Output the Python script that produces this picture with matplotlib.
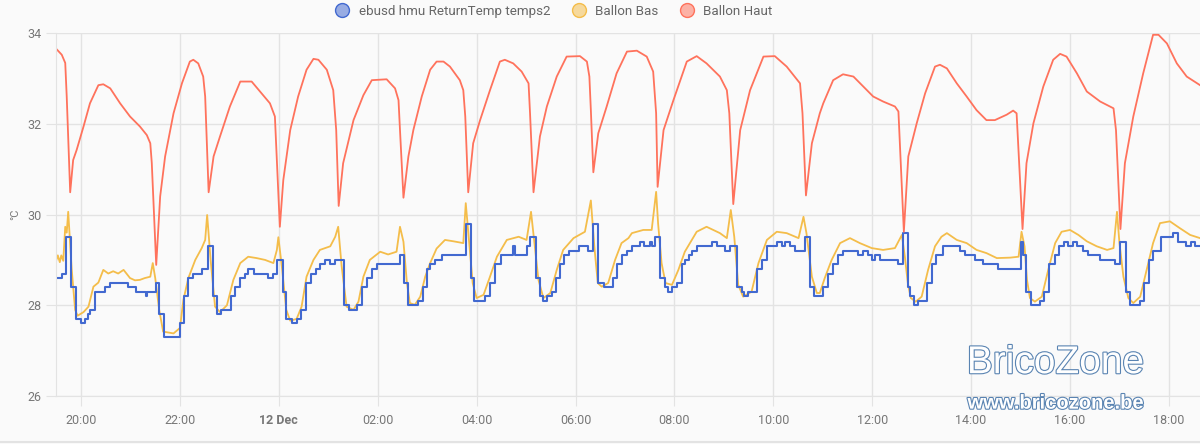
import matplotlib.pyplot as plt
import matplotlib.patheffects as pe
from matplotlib.lines import Line2D

plt.rcParams['font.family'] = ['Roboto', 'DejaVu Sans']

# time in decimal hours from 11 Dec 00:00 (24 = 12 Dec 00:00)
red_t = [19.49, 19.61, 19.68, 19.71, 19.78, 19.84, 19.91, 20.05, 20.18, 20.35, 20.45, 20.59, 20.79, 20.99,
         21.19, 21.33, 21.40, 21.43, 21.52, 21.60, 21.70, 21.87, 22.04, 22.20, 22.27, 22.37, 22.47, 22.51,
         22.58, 22.68, 22.81, 23.01, 23.22, 23.45, 23.62, 23.82, 23.92, 24.02, 24.09, 24.23, 24.39, 24.56,
         24.70, 24.80, 24.97, 25.10, 25.16, 25.21, 25.30, 25.51, 25.71, 25.88, 26.18, 26.35, 26.42, 26.45,
         26.52, 26.62, 26.72, 26.89, 27.06, 27.19, 27.33, 27.46, 27.66, 27.73, 27.77, 27.83, 27.93, 28.07,
         28.27, 28.47, 28.57, 28.74, 28.91, 29.05, 29.08, 29.15, 29.28, 29.42, 29.62, 29.82, 30.09, 30.23,
         30.28, 30.31, 30.36, 30.46, 30.63, 30.83, 31.04, 31.24, 31.44, 31.57, 31.63, 31.66, 31.78, 31.98,
         32.25, 32.45, 32.65, 32.92, 33.06, 33.11, 33.19, 33.33, 33.53, 33.80, 34.03, 34.27, 34.54, 34.59,
         34.66, 34.78, 34.94, 35.01, 35.21, 35.41, 35.62, 35.82, 36.02, 36.22, 36.46, 36.53, 36.64, 36.73,
         36.90, 37.07, 37.27, 37.37, 37.51, 37.71, 37.91, 38.11, 38.31, 38.48, 38.72, 38.85, 38.92, 39.04,
         39.12, 39.26, 39.46, 39.66, 39.80, 39.93, 40.14, 40.34, 40.61, 40.88, 40.93, 41.02, 41.11, 41.28,
         41.48, 41.68, 41.79, 41.96, 42.16, 42.36, 42.63]
red_v = [33.66, 33.52, 33.34, 32.60, 30.49, 31.20, 31.42, 31.94, 32.45, 32.85, 32.87, 32.78, 32.45, 32.16,
         31.94, 31.75, 31.57, 31.14, 28.89, 30.40, 31.28, 32.23, 32.89, 33.37, 33.41, 33.33, 33.04, 32.60,
         30.49, 31.28, 31.72, 32.38, 32.93, 32.93, 32.71, 32.45, 32.16, 29.73, 30.76, 31.86, 32.60, 33.19,
         33.43, 33.41, 33.19, 32.74, 31.86, 30.19, 31.13, 32.08, 32.63, 32.96, 32.98, 32.78, 32.52, 31.86,
         30.37, 31.28, 31.86, 32.60, 33.19, 33.37, 33.37, 33.26, 32.96, 32.74, 32.16, 30.49, 31.57, 32.08,
         32.74, 33.37, 33.41, 33.33, 33.15, 32.89, 32.23, 30.49, 31.72, 32.38, 33.04, 33.48, 33.49, 33.37,
         33.04, 32.30, 30.93, 31.79, 32.38, 33.11, 33.59, 33.61, 33.48, 33.15, 32.23, 30.61, 31.86, 32.52,
         33.37, 33.49, 33.33, 33.04, 32.74, 32.23, 30.23, 31.86, 32.74, 33.48, 33.49, 33.26, 32.89, 32.23,
         30.42, 31.57, 32.23, 32.45, 32.96, 33.09, 33.04, 32.82, 32.60, 32.49, 32.38, 32.27, 29.62, 31.28,
         32.01, 32.67, 33.26, 33.30, 33.22, 32.89, 32.60, 32.30, 32.08, 32.08, 32.20, 32.29, 32.23, 29.68,
         31.13, 32.01, 32.82, 33.41, 33.54, 33.48, 33.11, 32.71, 32.49, 32.34, 31.86, 29.68, 31.13, 32.16,
         33.11, 33.96, 33.96, 33.77, 33.33, 33.04, 32.85]

blue_t = [19.49, 19.61, 19.70, 19.80, 19.90, 20.00, 20.08, 20.15, 20.18, 20.28, 20.49, 20.59, 20.94, 21.11,
          21.31, 21.34, 21.52, 21.58, 21.68, 22.00, 22.09, 22.17, 22.26, 22.44, 22.57, 22.66, 22.74, 22.83,
          23.03, 23.11, 23.22, 23.32, 23.38, 23.50, 23.79, 23.89, 23.96, 24.08, 24.15, 24.27, 24.36, 24.45,
          24.55, 24.65, 24.75, 24.83, 24.93, 25.04, 25.14, 25.32, 25.41, 25.58, 25.68, 25.78, 25.88, 25.98,
          26.45, 26.53, 26.61, 26.82, 26.91, 26.99, 27.06, 27.16, 27.29, 27.78, 27.88, 27.95, 28.17, 28.27,
          28.37, 28.49, 28.74, 28.78, 29.01, 29.08, 29.20, 29.28, 29.34, 29.42, 29.52, 29.61, 29.69, 29.77,
          29.87, 30.08, 30.26, 30.35, 30.46, 30.57, 30.75, 30.83, 30.94, 31.04, 31.14, 31.31, 31.38, 31.50,
          31.55, 31.61, 31.71, 31.80, 31.87, 31.96, 32.05, 32.15, 32.22, 32.29, 32.35, 32.45, 32.76, 32.86,
          33.02, 33.12, 33.27, 33.36, 33.41, 33.49, 33.66, 33.77, 33.87, 34.07, 34.17, 34.24, 34.34, 34.44,
          34.64, 34.74, 34.82, 35.01, 35.11, 35.21, 35.31, 35.41, 35.72, 35.82, 35.92, 35.99, 36.06, 36.16,
          36.53, 36.63, 36.72, 36.76, 36.84, 36.93, 37.11, 37.20, 37.30, 37.43, 37.78, 37.88, 38.08, 38.25,
          38.55, 39.00, 39.04, 39.12, 39.21, 39.39, 39.48, 39.58, 39.70, 39.78, 39.88, 39.96, 40.06, 40.14,
          40.26, 40.36, 40.61, 40.91, 41.02, 41.13, 41.21, 41.42, 41.50, 41.60, 41.68, 41.85, 42.08, 42.18,
          42.35, 42.45, 42.53, 42.63]
blue_v = [28.6, 28.7, 29.5, 28.4, 27.7, 27.6, 27.7, 27.8, 27.9, 28.3, 28.4, 28.5, 28.4, 28.3,
          28.2, 28.3, 28.5, 27.8, 27.3, 27.6, 28.2, 28.6, 28.7, 28.8, 29.3, 28.2, 27.8, 27.9,
          28.2, 28.4, 28.6, 28.7, 28.8, 28.7, 28.6, 28.7, 29.0, 28.3, 27.7, 27.6, 27.7, 27.9,
          28.5, 28.7, 28.8, 28.9, 29.0, 28.9, 29.0, 28.0, 27.9, 28.0, 28.4, 28.6, 28.8, 28.9,
          29.1, 28.5, 28.0, 28.1, 28.4, 28.8, 28.9, 29.0, 29.1, 29.8, 28.6, 28.1, 28.2, 28.5,
          28.9, 29.1, 29.3, 29.1, 29.3, 29.5, 28.6, 28.2, 28.1, 28.2, 28.3, 28.6, 28.9, 29.1,
          29.2, 29.3, 29.2, 29.8, 28.5, 28.4, 28.6, 28.9, 29.1, 29.2, 29.3, 29.4, 29.3, 29.4,
          29.3, 29.5, 28.6, 28.4, 28.3, 28.4, 28.5, 28.9, 29.0, 29.1, 29.2, 29.3, 29.4, 29.3,
          29.2, 29.3, 28.4, 28.3, 28.2, 28.3, 28.8, 29.0, 29.3, 29.4, 29.3, 29.4, 29.3, 29.2,
          29.5, 28.4, 28.2, 28.4, 28.7, 28.9, 29.1, 29.2, 29.1, 29.2, 29.1, 29.0, 29.1, 29.0,
          28.9, 29.6, 28.4, 28.2, 28.0, 28.1, 28.5, 28.9, 29.1, 29.3, 29.2, 29.1, 29.0, 28.9,
          28.8, 29.4, 29.1, 28.3, 28.0, 28.1, 28.3, 28.9, 29.1, 29.3, 29.4, 29.3, 29.4, 29.3,
          29.2, 29.1, 29.0, 28.9, 29.4, 28.3, 28.0, 28.1, 28.5, 29.0, 29.2, 29.5, 29.6, 29.4,
          29.3, 29.4, 29.3, 29.3]

yellow_t = [19.49, 19.53, 19.57, 19.60, 19.64, 19.68, 19.71, 19.74, 19.81, 19.88, 19.93, 20.05, 20.15, 20.25,
            20.35, 20.45, 20.55, 20.65, 20.75, 20.86, 20.99, 21.09, 21.19, 21.29, 21.40, 21.45, 21.50, 21.58,
            21.66, 21.87, 22.00, 22.07, 22.17, 22.31, 22.44, 22.51, 22.55, 22.62, 22.71, 22.81, 22.95, 23.08,
            23.22, 23.38, 23.55, 23.72, 23.89, 23.96, 23.99, 24.06, 24.15, 24.23, 24.36, 24.46, 24.56, 24.70,
            24.83, 25.04, 25.14, 25.20, 25.27, 25.37, 25.51, 25.61, 25.71, 25.84, 26.05, 26.21, 26.38, 26.45,
            26.52, 26.59, 26.65, 26.75, 26.86, 26.96, 27.06, 27.19, 27.36, 27.53, 27.73, 27.78, 27.85, 27.92,
            28.00, 28.14, 28.27, 28.41, 28.61, 28.85, 29.01, 29.10, 29.17, 29.25, 29.35, 29.49, 29.62, 29.75,
            29.96, 30.19, 30.31, 30.38, 30.45, 30.53, 30.66, 30.80, 30.93, 31.07, 31.14, 31.37, 31.54, 31.63,
            31.67, 31.74, 31.82, 31.95, 32.08, 32.21, 32.45, 32.65, 32.92, 33.06, 33.14, 33.21, 33.29, 33.39,
            33.56, 33.70, 33.87, 34.07, 34.27, 34.51, 34.61, 34.67, 34.78, 34.88, 34.94, 35.04, 35.18, 35.35,
            35.55, 35.75, 35.99, 36.22, 36.46, 36.60, 36.66, 36.72, 36.78, 36.88, 37.00, 37.13, 37.27, 37.40,
            37.51, 37.71, 37.91, 38.11, 38.31, 38.52, 38.79, 38.96, 39.02, 39.08, 39.13, 39.19, 39.29, 39.43,
            39.56, 39.70, 39.83, 40.00, 40.17, 40.34, 40.54, 40.75, 40.88, 40.95, 41.00, 41.08, 41.18, 41.28,
            41.42, 41.55, 41.68, 41.82, 42.02, 42.22, 42.43, 42.63]
yellow_v = [28.96, 29.10, 28.95, 29.10, 28.98, 29.73, 29.60, 30.06, 28.80, 27.90, 27.77, 27.85, 27.97, 28.41,
            28.50, 28.78, 28.70, 28.75, 28.70, 28.78, 28.60, 28.55, 28.56, 28.60, 28.63, 28.93, 28.60, 27.90,
            27.42, 27.38, 27.50, 28.12, 28.60, 29.00, 29.26, 29.44, 29.99, 29.00, 27.97, 27.85, 28.00, 28.56,
            28.93, 29.07, 29.04, 29.00, 28.93, 29.22, 29.50, 28.86, 27.90, 27.66, 27.70, 27.97, 28.63, 29.00,
            29.22, 29.30, 29.51, 29.73, 28.86, 27.97, 27.90, 28.08, 28.63, 29.00, 29.18, 29.12, 29.18, 29.73,
            29.40, 28.49, 28.05, 28.01, 28.19, 28.63, 28.93, 29.25, 29.44, 29.41, 29.37, 30.25, 29.37, 28.49,
            28.16, 28.23, 28.63, 29.07, 29.44, 29.51, 29.44, 30.06, 29.37, 28.56, 28.16, 28.27, 28.78, 29.22,
            29.48, 29.62, 30.31, 29.30, 28.49, 28.41, 28.49, 29.00, 29.37, 29.48, 29.59, 29.66, 29.66, 30.50,
            29.80, 28.93, 28.49, 28.45, 28.78, 29.18, 29.62, 29.73, 29.59, 29.48, 30.10, 29.51, 28.45, 28.19,
            28.30, 28.93, 29.44, 29.62, 29.59, 29.48, 29.95, 29.59, 28.63, 28.27, 28.27, 28.60, 29.00, 29.37,
            29.48, 29.37, 29.26, 29.22, 29.26, 29.55, 29.07, 28.49, 28.16, 28.08, 28.19, 28.78, 29.30, 29.51,
            29.59, 29.44, 29.37, 29.22, 29.15, 29.04, 29.05, 29.07, 29.62, 29.30, 28.56, 28.16, 28.08, 28.19,
            28.78, 29.37, 29.62, 29.66, 29.55, 29.41, 29.30, 29.22, 29.26, 30.06, 29.37, 28.63, 28.16, 28.05,
            28.19, 28.78, 29.37, 29.81, 29.85, 29.70, 29.55, 29.48]

tick_pos = [20, 22, 24, 26, 28, 30, 32, 34, 36, 38, 40, 42]
tick_lbl = ["20:00", "22:00", "12 Dec", "02:00", "04:00", "06:00", "08:00",
            "10:00", "12:00", "14:00", "16:00", "18:00"]

c_blue = "#4269d0"
c_yellow = "#f4bd4a"
c_red = "#ff725c"
grid_c = "#e3e3e3"
txt_c = "#777777"

fig = plt.figure(figsize=(12, 4.44), dpi=100, facecolor="#fafafa")
ax = fig.add_axes([0.0467, 0.108, 0.9533, 0.8177])
ax.set_facecolor("#fafafa")

ax.plot(yellow_t, yellow_v, c=c_yellow, lw=1.3)
ax.plot(blue_t, blue_v, c=c_blue, lw=1.5, drawstyle="steps-post")
ax.plot(red_t, red_v, c=c_red, lw=1.3)

ax.set_xlim(19.494, 42.629)
ax.set_ylim(26, 34)
ax.set_yticks([26, 28, 30, 32, 34])
ax.set_xticks(tick_pos)
ax.set_xticklabels(tick_lbl)
ax.get_xticklabels()[2].set_fontweight("bold")
ax.grid(True, color=grid_c, lw=1)
ax.set_axisbelow(True)
ax.tick_params(length=7, color=grid_c, labelcolor=txt_c, labelsize=9)
ax.tick_params(axis="x", pad=6)
for s in ["top", "right"]:
    ax.spines[s].set_visible(False)
ax.spines["left"].set_color(grid_c)
ax.spines["bottom"].set_color(grid_c)
ax.set_ylabel("°C", color=txt_c, fontsize=8)
ax.yaxis.set_label_coords(-0.031, 0.5)

handles = [Line2D([], [], ls="", marker="o", ms=10, mfc=c + "88", mec=c, mew=1)
           for c in (c_blue, c_yellow, c_red)]
fig.legend(handles, ["ebusd hmu ReturnTemp temps2", "Ballon Bas", "Ballon Haut"],
           loc="center", bbox_to_anchor=(0.459, 0.975), ncol=3, frameon=False,
           fontsize=9.6, labelcolor="#666666", handletextpad=0.25, columnspacing=1.1)

# watermark
stroke = [pe.withStroke(linewidth=1.6, foreground="#5a84b2")]
fig.text(0.8795, 0.182, "BricoZone", fontsize=28, family="Liberation Sans", color="white",
         ha="center", va="center", path_effects=stroke)
fig.text(0.8795, 0.092, "www.bricozone.be", fontsize=14.5, family="Liberation Sans",
         weight="bold", color="white", ha="center", va="center", path_effects=stroke)

fig.add_artist(Line2D([0, 1], [0.005, 0.005], color=grid_c, lw=1.5))

plt.savefig("out.png", dpi=100, facecolor=fig.get_facecolor())
